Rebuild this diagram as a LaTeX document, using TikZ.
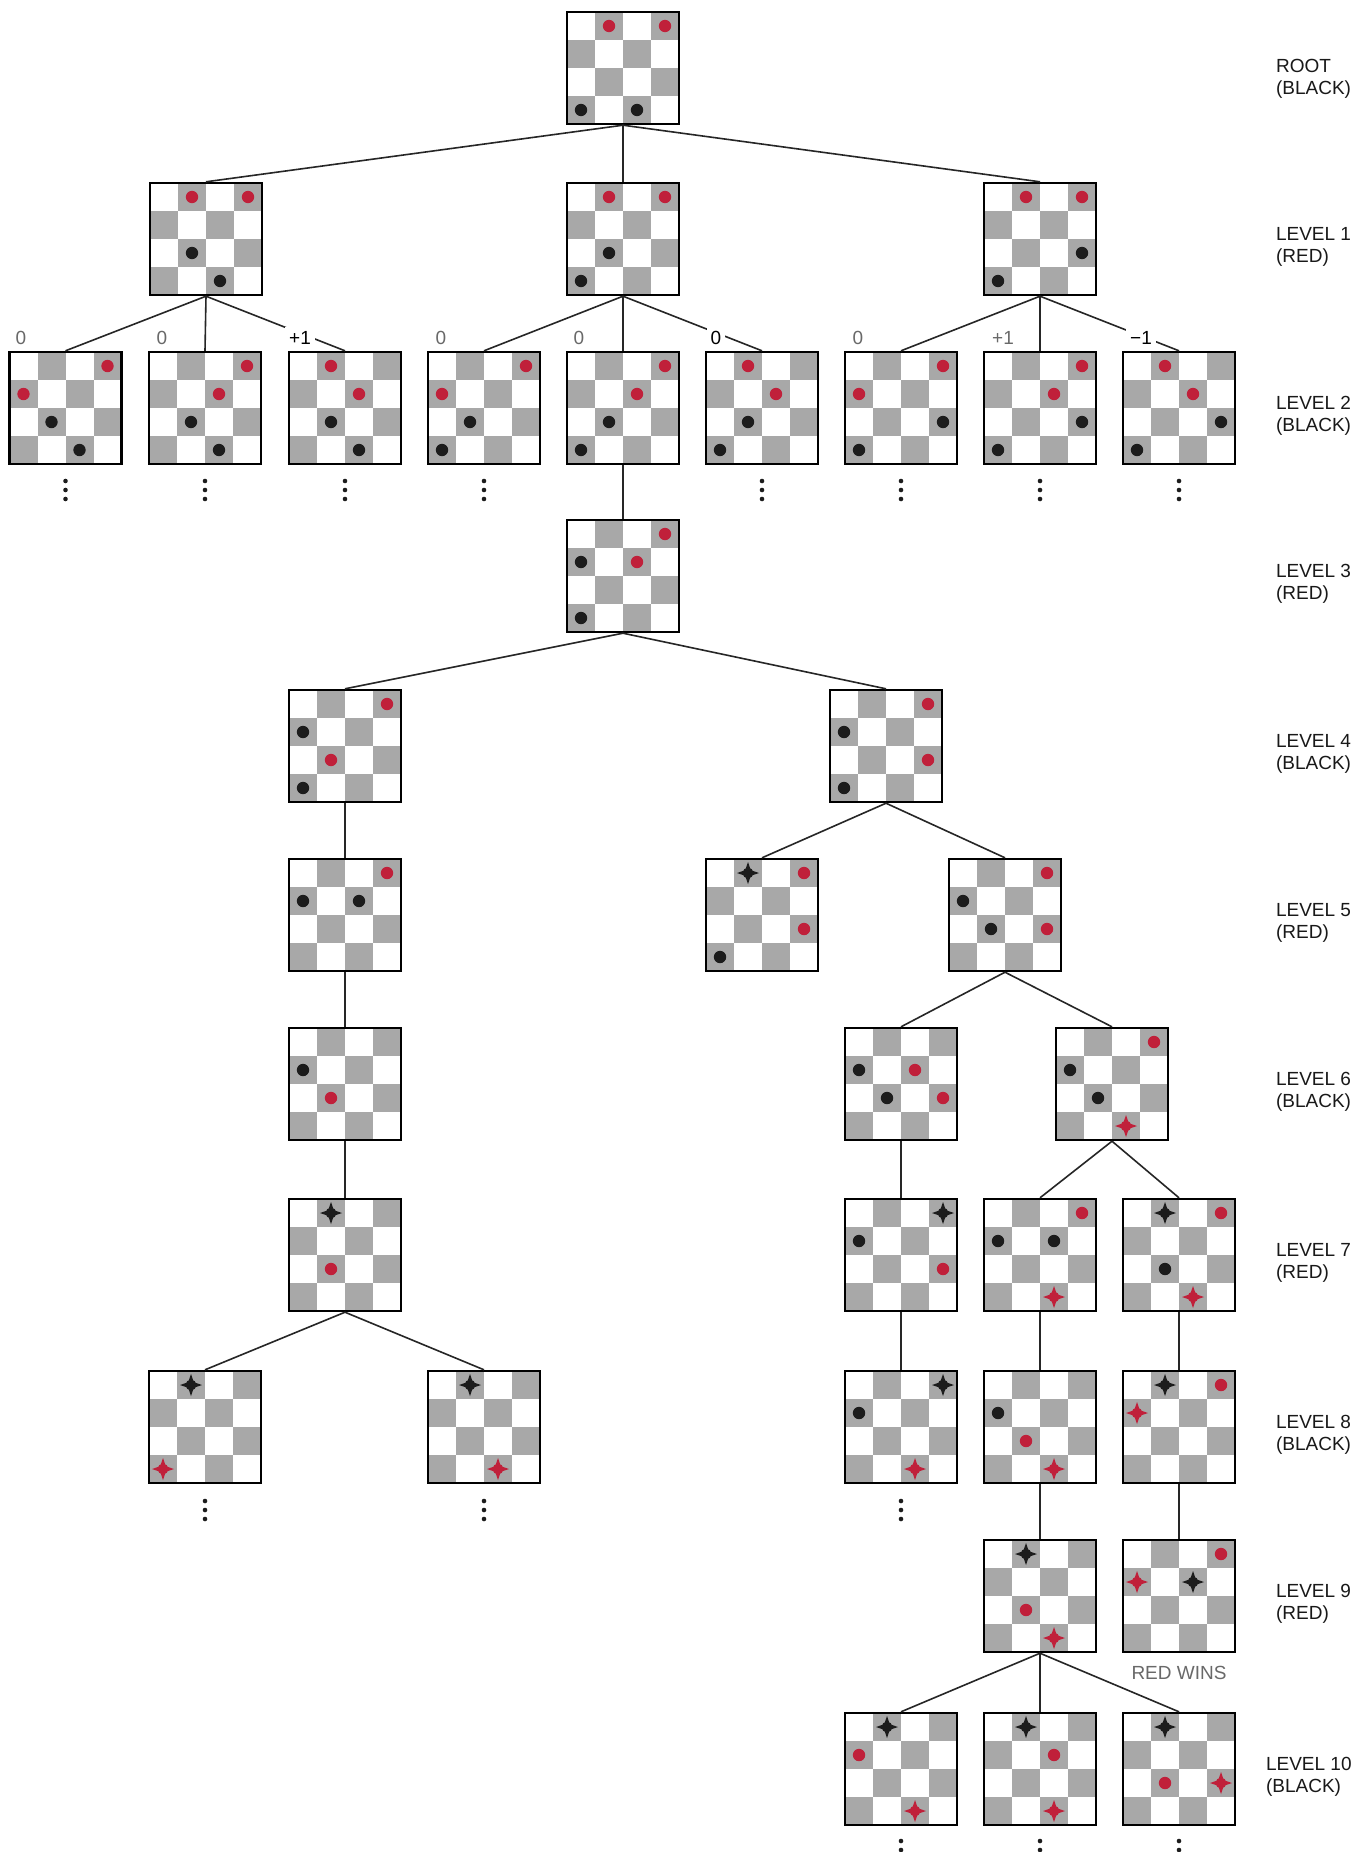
\documentclass[tikz,border=0pt]{standalone}
\usepackage{fontspec}
\setmainfont{Liberation Sans}
\definecolor{sqgray}{RGB}{168,168,168}
\definecolor{pred}{RGB}{192,32,58}
\definecolor{pblk}{RGB}{28,28,28}
\definecolor{lblgray}{RGB}{105,105,105}
\newcommand\bx{0}\newcommand\by{0}
\newcommand\kingmark[3]{\begin{scope}[shift={({\bx+(#2-2.5)*28},{\by+(#3-2.5)*28})}]
 \fill[#1] (0,-11) -- (2.8,-2.8) -- (11,0) -- (2.8,2.8) -- (0,11) -- (-2.8,2.8) -- (-11,0) -- (-2.8,-2.8) -- cycle;
 \fill[#1] (0,0) circle (2.7pt);
\end{scope}}
\newcommand\pcr[2]{\fill[pred] ({\bx+(#1-2.5)*28},{\by+(#2-2.5)*28}) circle (3.1pt);}
\newcommand\pcb[2]{\fill[pblk] ({\bx+(#1-2.5)*28},{\by+(#2-2.5)*28}) circle (3.1pt);}
\newcommand\pcR[2]{\kingmark{pred}{#1}{#2}}
\newcommand\pcB[2]{\kingmark{pblk}{#1}{#2}}
\newcommand\cboard[4]{%
  \renewcommand\bx{#2}\renewcommand\by{#3}%
  \foreach \pcol/\prow in {2/1,4/1,1/2,3/2,2/3,4/3,1/4,3/4}
    {\fill[sqgray] ({\bx+(\pcol-3)*28},{\by+(\prow-3)*28}) rectangle +(28,28);}
  \foreach \ptyp/\pcol/\prow in {#4} {\csname pc\ptyp\endcsname{\pcol}{\prow}}
  \node[boardframe] (#1) at (#2,#3) {};
}
\newcommand\dotcol[2]{\foreach \k in {0,1,2} {\fill[pblk] ({#1},{#2+\k*9}) circle (1.15pt);}}
\begin{document}
\begin{tikzpicture}[x=0.5pt,y=-0.5pt,
  boardframe/.style={draw=black, line width=1.2pt, minimum size=56pt, inner sep=0pt},
  edge/.style={draw=black!85, line width=0.8pt},
  lvl/.style={anchor=west, align=left, font=\fontsize{9.5}{10.8}\selectfont, text=black!90},
  score/.style={font=\fontsize{9.5}{11.5}\selectfont, fill=white, inner sep=2pt},
  scoreg/.style={score, text=lblgray}]
\fill[white] (0,0) rectangle (1369,1852);
\useasboundingbox (0,0) rectangle (1369,1852);
% root
\cboard{root}{623}{68}{r/2/1,r/4/1,b/1/4,b/3/4}
% level 1
\cboard{La}{206}{239}{r/2/1,r/4/1,b/2/3,b/3/4}
\cboard{Lb}{623}{239}{r/2/1,r/4/1,b/2/3,b/1/4}
\cboard{Lc}{1040}{239}{r/2/1,r/4/1,b/4/3,b/1/4}
% level 2
\cboard{Ma}{65.5}{408}{r/4/1,r/1/2,b/2/3,b/3/4}
\cboard{Mb}{205}{408}{r/4/1,r/3/2,b/2/3,b/3/4}
\cboard{Mc}{345}{408}{r/2/1,r/3/2,b/2/3,b/3/4}
\cboard{Md}{484}{408}{r/4/1,r/1/2,b/2/3,b/1/4}
\cboard{Me}{623}{408}{r/4/1,r/3/2,b/2/3,b/1/4}
\cboard{Mf}{762}{408}{r/2/1,r/3/2,b/2/3,b/1/4}
\cboard{Mg}{901}{408}{r/4/1,r/1/2,b/4/3,b/1/4}
\cboard{Mh}{1040}{408}{r/4/1,r/3/2,b/4/3,b/1/4}
\cboard{Mi}{1179}{408}{r/2/1,r/3/2,b/4/3,b/1/4}
% level 3
\cboard{Na}{623}{576}{r/4/1,r/3/2,b/1/2,b/1/4}
% level 4
\cboard{Oa}{345}{746}{r/4/1,r/2/3,b/1/2,b/1/4}
\cboard{Ob}{886}{746}{r/4/1,r/4/3,b/1/2,b/1/4}
% level 5
\cboard{Pa}{345}{915}{r/4/1,b/1/2,b/3/2}
\cboard{Pb}{762}{915}{B/2/1,r/4/1,r/4/3,b/1/4}
\cboard{Pc}{1005}{915}{r/4/1,r/4/3,b/1/2,b/2/3}
% level 6
\cboard{Qa}{345}{1084}{b/1/2,r/2/3}
\cboard{Qb}{901}{1084}{b/1/2,r/3/2,b/2/3,r/4/3}
\cboard{Qc}{1112}{1084}{r/4/1,b/1/2,b/2/3,R/3/4}
% level 7
\cboard{Ra}{345}{1255}{B/2/1,r/2/3}
\cboard{Rb}{901}{1255}{B/4/1,b/1/2,r/4/3}
\cboard{Rc}{1040}{1255}{r/4/1,b/1/2,b/3/2,R/3/4}
\cboard{Rd}{1179}{1255}{B/2/1,r/4/1,b/2/3,R/3/4}
% level 8
\cboard{Sa}{205}{1427}{B/2/1,R/1/4}
\cboard{Sb}{484}{1427}{B/2/1,R/3/4}
\cboard{Sc}{901}{1427}{B/4/1,b/1/2,R/3/4}
\cboard{Sd}{1040}{1427}{b/1/2,r/2/3,R/3/4}
\cboard{Se}{1179}{1427}{B/2/1,r/4/1,R/1/2}
% level 9
\cboard{Ta}{1040}{1596}{B/2/1,r/2/3,R/3/4}
\cboard{Tb}{1179}{1596}{r/4/1,R/1/2,B/3/2}
% level 10
\cboard{Ua}{901}{1769}{B/2/1,r/1/2,R/3/4}
\cboard{Ub}{1040}{1769}{B/2/1,r/3/2,R/3/4}
\cboard{Uc}{1179}{1769}{B/2/1,r/2/3,R/4/3}
% edges
\foreach \p/\ch in {root/La,root/Lb,root/Lc,
  La/Ma,La/Mb,La/Mc,Lb/Md,Lb/Me,Lb/Mf,Lc/Mg,Lc/Mh,Lc/Mi,
  Me/Na,Na/Oa,Na/Ob,Oa/Pa,Ob/Pb,Ob/Pc,Pa/Qa,Pc/Qb,Pc/Qc,
  Qa/Ra,Qb/Rb,Qc/Rc,Qc/Rd,Ra/Sa,Ra/Sb,Rb/Sc,Rc/Sd,Rd/Se,
  Sd/Ta,Se/Tb,Ta/Ua,Ta/Ub,Ta/Uc}
  {\draw[edge] (\p.south) -- (\ch.north);}
% scores
\node[scoreg] (s1) at (21,338) {0};
\node[scoreg] (s2) at (162,338) {0};
\node[score] (s3) at (300,338) {+1};
\node[scoreg] (s4) at (441,338) {0};
\node[scoreg] (s5) at (579,338) {0};
\node[score] (s6) at (716,338) {0};
\node[scoreg] (s7) at (858,338) {0};
\node[scoreg] (s8) at (1003,338) {+1};
\node[score] (s9) at (1141,338) {−1};
% continuation dots
\foreach \xx in {65.5,205,345,484,762,901,1040,1179} {\dotcol{\xx}{481}}
\foreach \xx in {205,484,901} {\dotcol{\xx}{1501}}
\foreach \xx in {901,1040,1179} {\dotcol{\xx}{1841}}
% red wins
\node[font=\fontsize{9.5}{11.5}\selectfont, text=lblgray] (win) at (1179,1673) {RED WINS};
% level labels
\node[lvl] (l0) at (1269,79) {ROOT\\(BLACK)};
\node[lvl] (l1) at (1269,247) {LEVEL 1\\(RED)};
\node[lvl] (l2) at (1269,416) {LEVEL 2\\(BLACK)};
\node[lvl] (l3) at (1269,584) {LEVEL 3\\(RED)};
\node[lvl] (l4) at (1269,754) {LEVEL 4\\(BLACK)};
\node[lvl] (l5) at (1269,923) {LEVEL 5\\(RED)};
\node[lvl] (l6) at (1269,1092) {LEVEL 6\\(BLACK)};
\node[lvl] (l7) at (1269,1263) {LEVEL 7\\(RED)};
\node[lvl] (l8) at (1269,1435) {LEVEL 8\\(BLACK)};
\node[lvl] (l9) at (1269,1604) {LEVEL 9\\(RED)};
\node[lvl] (l10) at (1259,1777) {LEVEL 10\\(BLACK)};
\end{tikzpicture}
\end{document}
